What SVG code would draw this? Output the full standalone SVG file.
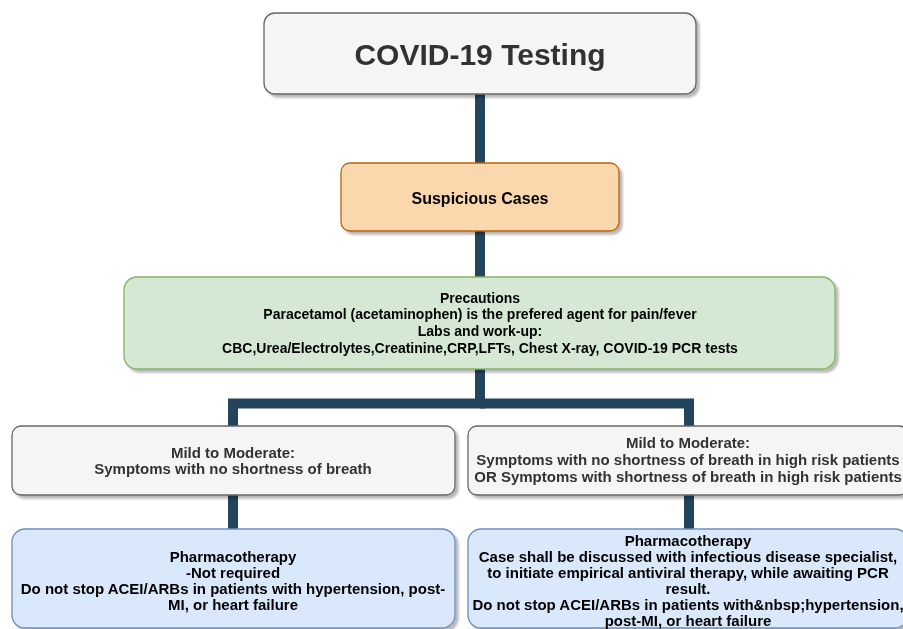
<svg xmlns="http://www.w3.org/2000/svg" width="903" height="629" viewBox="0 0 903 629">
  <defs>
    <filter id="shadow" x="-5%" y="-10%" width="115%" height="130%">
      <feGaussianBlur in="SourceAlpha" stdDeviation="1.2"/>
      <feOffset dx="3" dy="3" result="off"/>
      <feComponentTransfer><feFuncA type="linear" slope="0.28"/></feComponentTransfer>
      <feMerge><feMergeNode/><feMergeNode in="SourceGraphic"/></feMerge>
    </filter>
  </defs>
  <style>
    text { font-family: "Liberation Sans", Arial, Helvetica, sans-serif; font-weight: bold; text-anchor: middle; }
    .gray { fill: #f5f5f5; stroke: #666666; stroke-width: 1.3; }
    .orange { fill: #fad7ac; stroke: #b46504; stroke-width: 1.3; }
    .green { fill: #d5e8d4; stroke: #82b366; stroke-width: 1.3; }
    .blue { fill: #dae8fc; stroke: #6c8ebf; stroke-width: 1.3; }
    .dark { fill: #333333; }
    .black { fill: #000000; }
    .t15 { font-size: 15px; }
    .conn { fill: none; stroke: #23445d; stroke-width: 10; stroke-linejoin: miter; }
  </style>

  <!-- connectors -->
  <g id="connectors">
    <path class="conn" d="M480 94 V163"/>
    <path class="conn" d="M480 231 V278"/>
    <path class="conn" d="M480 369 V403.5 H233 V426"/>
    <path class="conn" d="M480 403.5 H689 V426"/>
    <path class="conn" d="M233 495 V529"/>
    <path class="conn" d="M689 495 V529"/>
  </g>

  <!-- title -->
  <g id="covid-testing" filter="url(#shadow)">
    <rect class="gray" x="264" y="13" width="432" height="81" rx="11"/>
    <text class="dark" x="480" y="65" font-size="30">COVID-19 Testing</text>
  </g>

  <g id="suspicious-cases" filter="url(#shadow)">
    <rect class="orange" x="341" y="163" width="278" height="68" rx="9"/>
    <text class="black" x="480" y="204" font-size="16">Suspicious Cases</text>
  </g>

  <g id="precautions" filter="url(#shadow)">
    <rect class="green" x="124" y="277" width="711" height="92" rx="13"/>
    <g class="black" font-size="14">
      <text x="480" y="303">Precautions</text>
      <text x="480" y="319">Paracetamol (acetaminophen) is the prefered agent for pain/fever</text>
      <text x="480" y="336">Labs and work-up:</text>
      <text x="480" y="353">CBC,Urea/Electrolytes,Creatinine,CRP,LFTs, Chest X-ray, COVID-19 PCR tests</text>
    </g>
  </g>

  <g id="mild-no-sob" filter="url(#shadow)">
    <rect class="gray" x="12" y="426" width="443" height="69" rx="9"/>
    <g class="dark t15">
      <text x="233" y="458">Mild to Moderate:</text>
      <text x="233" y="474">Symptoms with no shortness of breath</text>
    </g>
  </g>

  <g id="mild-high-risk" filter="url(#shadow)">
    <rect class="gray" x="468" y="426" width="440" height="69" rx="9"/>
    <g class="dark t15">
      <text x="688" y="448">Mild to Moderate:</text>
      <text x="688" y="465">Symptoms with no shortness of breath in high risk patients</text>
      <text x="688" y="482">OR Symptoms with shortness of breath in high risk patients</text>
    </g>
  </g>

  <g id="pharma-left" filter="url(#shadow)">
    <rect class="blue" x="12" y="529" width="443" height="99" rx="13"/>
    <g class="black t15">
      <text x="233" y="562">Pharmacotherapy</text>
      <text x="233" y="578">-Not required</text>
      <text x="233" y="594">Do not stop ACEI/ARBs in patients with hypertension, post-</text>
      <text x="233" y="610">MI, or heart failure</text>
    </g>
  </g>

  <g id="pharma-right" filter="url(#shadow)">
    <rect class="blue" x="468" y="529" width="440" height="99" rx="13"/>
    <g class="black t15">
      <text x="688" y="546">Pharmacotherapy</text>
      <text x="688" y="562">Case shall be discussed with infectious disease specialist,</text>
      <text x="688" y="578">to initiate empirical antiviral therapy, while awaiting PCR</text>
      <text x="688" y="594">result.</text>
      <text x="688" y="610">Do not stop ACEI/ARBs in patients with&amp;nbsp;hypertension,</text>
      <text x="688" y="626">post-MI, or heart failure</text>
    </g>
  </g>
</svg>
